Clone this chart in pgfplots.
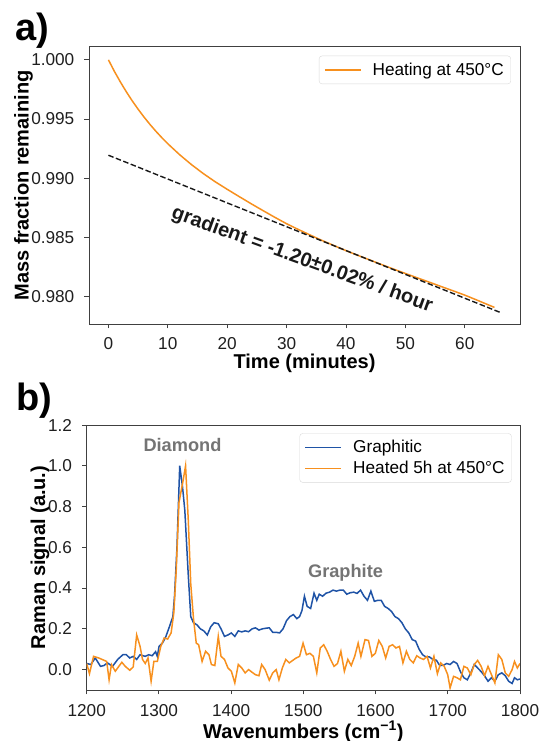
\documentclass[border=0pt]{standalone}
\usepackage{fontspec}
\setmainfont{Liberation Sans}
\usepackage{pgfplots}
\usepackage{pgfplotstable}
\pgfplotsset{compat=1.18}

\definecolor{hotorange}{HTML}{F7901E}
\definecolor{graphblue}{HTML}{1F53A6}
\definecolor{framegray}{HTML}{404040}
\definecolor{notegray}{HTML}{747474}

% Raman spectrum, graphitic sample
\pgfplotstableread{
w s
1200 0.030
1205.7 0.025
1211.9 0.057
1219.1 0.016
1223.9 0.020
1228.6 0.033
1235.8 0.016
1242.9 0.050
1250.1 0.073
1254.9 0.073
1259.6 0.057
1264.4 0.065
1269.2 0.050
1273.9 0.073
1281.1 0.065
1285.9 0.073
1290.6 0.068
1295.4 0.088
1297.8 0.065
1300.2 0.114
1304.9 0.130
1309.7 0.163
1314.5 0.210
1319.3 0.260
1321.6 0.360
1325.0 0.600
1328.8 1.000
1332.6 0.900
1335.9 0.780
1340.7 0.460
1344.1 0.260
1347.9 0.230
1352.6 0.220
1357.4 0.200
1362.2 0.190
1367.0 0.170
1371.7 0.210
1376.5 0.230
1382.2 0.225
1386.0 0.200
1390.8 0.163
1395.6 0.170
1400.3 0.180
1405.1 0.163
1409.9 0.190
1414.7 0.185
1419.4 0.190
1424.2 0.186
1429.0 0.200
1433.7 0.205
1438.5 0.194
1443.3 0.200
1448.0 0.203
1452.8 0.205
1457.6 0.183
1462.4 0.183
1467.1 0.180
1471.9 0.200
1476.7 0.240
1481.4 0.260
1486.2 0.270
1491.0 0.250
1494.8 0.260
1498.1 0.290
1501.5 0.360
1505.3 0.310
1510.1 0.300
1514.8 0.375
1518.6 0.340
1522.0 0.370
1526.7 0.360
1531.5 0.375
1536.3 0.380
1541.1 0.390
1545.8 0.385
1550.6 0.390
1555.4 0.390
1560.1 0.370
1564.9 0.377
1569.7 0.380
1574.4 0.374
1579.2 0.390
1584.0 0.360
1588.8 0.340
1593.5 0.385
1598.3 0.335
1603.1 0.340
1607.8 0.340
1612.6 0.310
1617.4 0.300
1622.1 0.285
1626.9 0.260
1631.7 0.250
1636.5 0.230
1641.2 0.200
1646.0 0.180
1650.8 0.147
1655.5 0.140
1660.3 0.100
1665.1 0.073
1669.8 0.062
1674.6 0.062
1679.4 0.050
1684.2 0.046
1688.9 0.020
1693.7 0.021
1698.5 0.030
1703.2 0.025
1708.0 0.040
1712.8 0.030
1717.5 -0.010
1722.3 -0.040
1727.1 -0.050
1731.9 -0.016
1736.6 0.025
1741.4 0.008
1746.2 -0.010
1750.9 -0.030
1755.7 -0.057
1760.5 -0.040
1765.2 -0.057
1770.0 -0.025
1774.8 -0.016
1779.6 -0.030
1784.3 -0.057
1789.1 -0.068
1792.4 -0.040
1796.3 -0.050
1800 -0.046
}\graphitic

% Raman spectrum, after 5 h at 450 C
\pgfplotstableread{
w s
1200 0.030
1203.8 -0.020
1209.5 0.065
1216.7 0.057
1223.9 0.046
1227.7 0.040
1231.0 -0.050
1234.3 0.025
1239.6 -0.008
1243.9 0.013
1248.7 0.036
1253.4 0.016
1259.6 -0.003
1264.4 0.013
1269.2 0.170
1273.9 0.114
1277.3 0.050
1281.1 0.030
1284.9 0.057
1289.2 -0.057
1293.0 0.040
1297.8 0.040
1302.6 0.114
1307.3 0.155
1312.1 0.150
1316.9 0.180
1320.7 0.280
1324.0 0.490
1327.8 0.820
1333.6 0.930
1336.9 1.000
1340.7 0.730
1344.1 0.420
1347.9 0.250
1351.7 0.130
1355.0 0.122
1359.8 0.040
1364.6 0.090
1369.3 0.073
1372.7 0.025
1377.4 0.020
1382.2 0.163
1386.0 0.065
1390.8 0.050
1395.6 0.008
1400.3 -0.008
1405.1 -0.065
1409.9 0.025
1414.7 0.008
1419.4 -0.016
1424.2 0.000
1429.0 -0.013
1433.7 -0.025
1438.5 -0.030
1442.3 0.025
1447.1 0.000
1452.8 -0.052
1457.6 -0.016
1462.4 0.000
1466.2 -0.050
1470.9 0.008
1475.7 0.050
1480.5 0.033
1485.2 0.045
1490.0 0.057
1494.8 0.065
1499.6 0.130
1504.3 0.073
1509.1 0.080
1513.9 0.065
1518.6 -0.016
1523.4 0.106
1528.2 0.122
1533.0 0.090
1537.7 0.050
1542.5 0.016
1547.3 0.030
1552.0 0.090
1556.8 -0.008
1561.6 0.050
1566.3 0.020
1571.1 0.065
1575.9 0.130
1579.7 0.065
1585.4 0.147
1590.2 0.143
1595.0 0.065
1599.7 0.080
1604.5 0.143
1609.3 0.114
1614.0 0.057
1618.8 0.114
1623.6 0.122
1628.3 0.106
1633.1 0.114
1637.9 0.033
1642.7 0.090
1647.4 0.050
1652.2 0.033
1657.0 0.068
1661.7 0.057
1666.5 0.050
1671.3 0.065
1676.0 0.008
1680.8 0.065
1685.6 -0.020
1690.3 0.033
1695.1 0.016
1699.9 -0.025
1703.2 -0.090
1708.0 -0.033
1712.8 -0.040
1717.5 -0.050
1722.3 0.016
1727.1 0.008
1731.9 -0.025
1736.6 0.025
1741.4 0.045
1746.2 0.016
1750.9 -0.030
1755.7 0.016
1760.5 -0.025
1765.2 -0.065
1770.0 0.073
1774.8 0.050
1779.6 -0.016
1784.3 -0.033
1789.1 0.000
1792.4 0.040
1796.3 0.008
1800 0.030
}\heated

% mass loss while heating
\pgfplotstableread{
t m
0 1.00000
1 0.99903
2 0.99814
3 0.99731
4 0.99654
5 0.99583
6 0.99516
7 0.99454
8 0.99396
9 0.99342
10 0.99291
12 0.99198
14 0.99114
16 0.99038
18 0.98969
20 0.98906
22 0.98845
24 0.98785
26 0.98727
28 0.98670
30 0.98615
32 0.98566
34 0.98519
36 0.98473
38 0.98430
40 0.98388
42 0.98348
44 0.98309
46 0.98270
48 0.98232
50 0.98195
52 0.98158
54 0.98122
56 0.98085
58 0.98049
60 0.98012
62 0.97971
64 0.97929
65 0.97908
}\massloss

\pgfplotsset{
  panel/.style={
    scale only axis,
    axis line style={framegray, line width=0.9pt},
    tick style={framegray, line width=0.9pt},
    major tick length=4.5pt,
    tick align=outside,
    tick pos=left,
    /pgf/number format/assume math mode=true,
    /pgf/number format/set thousands separator={},
    xticklabel={\pgfmathprintnumber{\tick}},
    yticklabel={\pgfmathprintnumber{\tick}},
    ticklabel style={font=\fontsize{17.2}{19}\selectfont, text=black!88, inner sep=0pt},
    xticklabel style={anchor=base},
    yticklabel style={anchor=east, xshift=-10pt},
    label style={font=\bfseries\fontsize{20}{22}\selectfont},
    xlabel style={anchor=base},
    ylabel style={anchor=center},
    legend cell align=left,
    legend image code/.code={\draw[##1, line width=1.5pt] (0pt,0pt) -- (36pt,0pt);},
    legend style={draw=black!15, rounded corners=3pt, anchor=north east,
      font=\fontsize{17.2}{19}\selectfont, inner xsep=5pt, inner ysep=5pt,
      /tikz/every odd column/.append style={column sep=9pt}},
  },
}

\begin{document}
\begin{tikzpicture}
\useasboundingbox (0,0) rectangle (541pt,741pt);

\node[font=\bfseries\fontsize{38}{42}\selectfont, anchor=base west, inner sep=0pt]
  at (15pt,700.5pt) {a)};
\node[font=\bfseries\fontsize{38}{42}\selectfont, anchor=base west, inner sep=0pt]
  at (16pt,330pt) {b)};

\begin{axis}[panel,
  at={(89pt,417pt)}, anchor=south west,
  width=431pt, height=277.3pt,
  xmin=-3.27, xmax=69.3,
  ymin=0.97768, ymax=1.00111,
  xtick={0,10,20,30,40,50,60},
  ytick={0.980,0.985,0.990,0.995,1.000},
  yticklabel style={/pgf/number format/.cd, fixed, fixed zerofill, precision=3},
  xticklabel style={yshift=-21pt},
  xlabel={Time (minutes)},
  ylabel={Mass fraction remaining},
  xlabel style={at={(axis description cs:0.5,-0.1598)}},
  ylabel style={at={(axis description cs:-0.152,0.5)}},
  legend style={at={(rel axis cs:0.9791,0.9675)}},
]
\addplot[hotorange, line width=1.5pt] table[x=t, y=m] {\massloss};
\addlegendentry{Heating at 450°C}
\addplot[black!90, line width=1.4pt, dash pattern=on 5.5pt off 2.5pt, forget plot]
  coordinates {(0,0.99194) (66,0.97865)};
\node[rotate=-20, font=\bfseries\fontsize{20}{22}\selectfont, text=black!90]
  at (axis cs:32.6,0.98310) {gradient = -1.20±0.02\% / hour};
\end{axis}

\begin{axis}[panel,
  at={(86.7pt,51pt)}, anchor=south west,
  width=433.3pt, height=265pt,
  xmin=1200, xmax=1800,
  ymin=-0.1, ymax=1.2,
  xtick={1200,1300,1400,1500,1600,1700,1800},
  ytick={0,0.2,0.4,0.6,0.8,1.0,1.2},
  yticklabel style={/pgf/number format/.cd, fixed, fixed zerofill, precision=1},
  xticklabel style={yshift=-21.7pt},
  xlabel={Wavenumbers (cm\textsuperscript{\char"2212 1})},
  ylabel={Raman signal (a.u.)},
  xlabel style={at={(axis description cs:0.5,-0.1823)}},
  ylabel style={at={(axis description cs:-0.1078,0.5)}},
  legend style={at={(rel axis cs:0.9808,0.9687)}, row sep=3pt},
]
\addplot[graphblue, line width=1.5pt] table[x=w, y=s] {\graphitic};
\addlegendentry{Graphitic}
\addplot[hotorange, line width=1.5pt] table[x=w, y=s] {\heated};
\addlegendentry{Heated 5h at 450°C}
\node[text=notegray, font=\bfseries\fontsize{18.2}{20}\selectfont, anchor=base]
  at (axis cs:1332.6,1.0706) {Diamond};
\node[text=notegray, font=\bfseries\fontsize{18.2}{20}\selectfont, anchor=base]
  at (axis cs:1558.4,0.4497) {Graphite};
\end{axis}
\end{tikzpicture}
\end{document}
